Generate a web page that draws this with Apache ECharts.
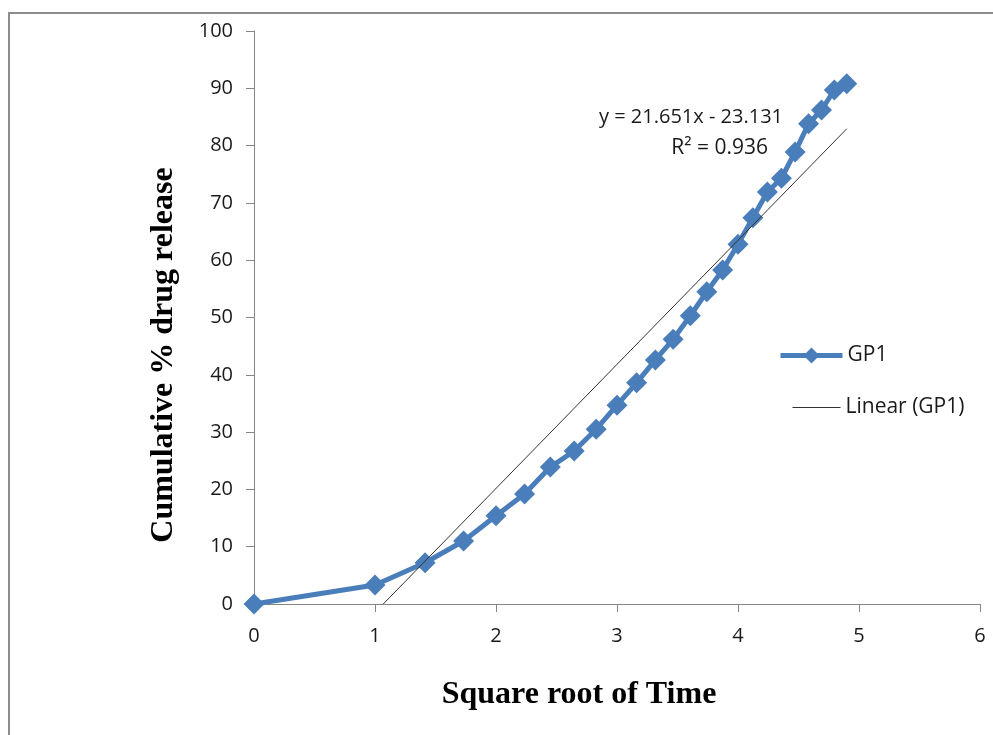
<!DOCTYPE html>
<html><head><meta charset="utf-8">
<script src="https://cdn.jsdelivr.net/npm/echarts@6/dist/echarts.min.js"></script>
<style>html,body{margin:0;padding:0;background:#fff}#c{width:993px;height:735px}</style>
</head><body><div id="c"></div>
<script>
const sqrtTime = [0, 1, 1.414, 1.732, 2, 2.236, 2.449, 2.646, 2.828, 3, 3.162, 3.317, 3.464, 3.606, 3.742, 3.873, 4, 4.123, 4.243, 4.359, 4.472, 4.583, 4.690, 4.796, 4.899];
const gp1 = [0, 3.3, 7.2, 11.0, 15.4, 19.2, 23.9, 26.7, 30.5, 34.7, 38.6, 42.6, 46.2, 50.3, 54.5, 58.3, 62.8, 67.4, 71.9, 74.3, 78.9, 83.8, 86.2, 89.7, 90.8];
const trendSlope = 21.651;
const trendIntercept = -23.131;
const trendX = [-trendIntercept / trendSlope, 4.899];
const xTicks = [0, 6, 1];
const yTicks = [0, 100, 10];

const chart = echarts.init(document.getElementById('c'));
const labelFont = '"Open Sans", Lato, sans-serif';
const titleFont = '"Liberation Serif", serif';
const axisCol = '#868686';
chart.setOption({
  animation: false,
  backgroundColor: '#fff',
  graphic: [{
    type: 'rect', shape: {x: 9, y: 13, width: 1100, height: 900},
    style: {fill: 'none', stroke: '#8c8c8c', lineWidth: 2}, silent: true
  }, {
    type: 'text', x: 783, y: 117,
    style: {text: 'y = 21.651x - 23.131', font: '20px ' + labelFont, fill: '#1a1a1a', align: 'right', verticalAlign: 'middle'}
  }, {
    type: 'text', x: 768, y: 148,
    style: {text: 'R² = 0.936', font: '21px ' + labelFont, fill: '#1a1a1a', align: 'right', verticalAlign: 'middle'}
  }, {
    type: 'text', x: 164, y: 355, rotation: Math.PI / 2,
    style: {text: 'Cumulative % drug release', font: 'bold 32px ' + titleFont, fill: '#000', align: 'center', verticalAlign: 'middle'}
  }, {
    type: 'text', x: 579, y: 695,
    style: {text: 'Square root of Time', font: 'bold 32px ' + titleFont, fill: '#000', align: 'center', verticalAlign: 'middle'}
  }],
  grid: {left: 254, right: 13, top: 31, bottom: 131},
  legend: [{
    data: ['GP1'], orient: 'vertical', left: 773, top: 340,
    itemWidth: 62, itemHeight: 20, itemGap: 6,
    lineStyle: {width: 5},
    textStyle: {fontFamily: labelFont, fontSize: 21, color: '#1a1a1a'}
  }, {
    data: ['Linear (GP1)'], orient: 'vertical', left: 787, top: 392,
    itemWidth: 48, itemHeight: 20,
    itemStyle: {opacity: 0},
    lineStyle: {width: 1},
    textStyle: {fontFamily: labelFont, fontSize: 21, color: '#1a1a1a'}
  }],
  xAxis: {
    type: 'value', min: xTicks[0], max: xTicks[1], interval: xTicks[2],
    axisLine: {lineStyle: {color: axisCol}},
    axisTick: {show: true, length: 8, lineStyle: {color: axisCol}},
    axisLabel: {fontFamily: labelFont, fontSize: 20, color: '#1a1a1a', margin: 22},
    splitLine: {show: false}
  },
  yAxis: {
    type: 'value', min: yTicks[0], max: yTicks[1], interval: yTicks[2],
    axisLine: {show: true, lineStyle: {color: axisCol}},
    axisTick: {show: true, length: 8, lineStyle: {color: axisCol}},
    axisLabel: {fontFamily: labelFont, fontSize: 20, color: '#1a1a1a', margin: 21},
    splitLine: {show: false}
  },
  series: [{
    name: 'GP1', type: 'line',
    data: sqrtTime.map((x, i) => [x, gp1[i]]),
    symbol: 'diamond', symbolSize: 21,
    lineStyle: {color: '#4a7ebb', width: 5},
    itemStyle: {color: '#4a7ebb'},
    z: 3
  }, {
    name: 'Linear (GP1)', type: 'line',
    data: trendX.map(x => [x, trendSlope * x + trendIntercept]),
    symbol: 'none',
    lineStyle: {color: '#333', width: 1},
    itemStyle: {color: '#333'},
    z: 4
  }]
});
</script></body></html>
